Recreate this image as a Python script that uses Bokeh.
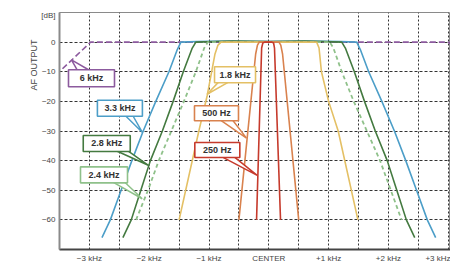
import math
from bokeh.plotting import figure
from bokeh.models import FixedTicker, Range1d, Title
from bokeh.core.properties import value
from bokeh.embed import file_html
from bokeh.resources import INLINE

# ---- axis ticks ----
x_ticks = [-3, -2, -1, 0, 1, 2, 3]
x_tick_labels = ["\u22123 kHz", "\u22122 kHz", "\u22121 kHz", "CENTER", "+1 kHz", "+2 kHz", "+3 kHz"]
x_grid = [-3.5, -3, -2.5, -2, -1.5, -1, -0.5, 0, 0.5, 1, 1.5, 2, 2.5, 3]
y_grid = [-60, -50, -40, -30, -20, -10, 0]
y_ticks = [-60, -50, -40, -30, -20, -10, 0, 9]
y_tick_labels = ["\u221260", "\u221250", "\u221240", "\u221230", "\u221220", "\u221210", "0", "[dB]"]

# ---- filter curves (offset kHz, dB) ----
f6k_x = [-3.45, -2.98, 3.0, 3.1]
f6k_y = [-9, 0, 0, -1.5]

f33_x = [-2.79, -2.65, -2.47, -2.29, -2.10, -1.89, -1.67, -1.53, -1.47, -1.2, -0.6, 0, 0.6, 1.2, 1.47, 1.53, 1.67, 1.89, 2.10, 2.29, 2.47, 2.65, 2.79]
f33_y = [-66, -60, -50, -40, -30, -20, -10, -2.5, 0, 0.2, 0.4, 0.2, 0.4, 0.2, 0, -2.5, -10, -20, -30, -40, -50, -60, -66]

f28_x = [-2.44, -2.30, -2.14, -1.98, -1.78, -1.60, -1.43, -1.28, -1.22, -0.6, 0, 0.6, 1.22, 1.28, 1.43, 1.60, 1.78, 1.98, 2.14, 2.30, 2.44]
f28_y = [-66, -60, -50, -40, -30, -20, -10, -2, 0, 0.4, 0.2, 0.4, 0, -2, -10, -20, -30, -40, -50, -60, -66]

f24_x = [-2.22, -2.02, -1.84, -1.63, -1.42, -1.22, -1.08, -1.02, 0, 1.02, 1.08, 1.22, 1.42, 1.64, 1.86, 2.04, 2.22]
f24_y = [-60, -50, -40, -30, -20, -10, -2, 0, 0, 0, -2, -10, -20, -30, -40, -50, -60]

f18_x = [-1.50, -1.17, -1.03, -0.90, -0.85, -0.80, 0, 0.80, 0.84, 0.88, 1.00, 1.16, 1.49]
f18_y = [-60, -30, -18, -4, -1, 0, 0, 0, -2, -10, -20, -30, -60]

f500_x = [-0.50, -0.22, -0.19, -0.16, 0.17, 0.20, 0.23, 0.50]
f500_y = [-60, -4, -1, 0, 0, -1, -4, -60]

f250_x = [-0.205, -0.12, -0.10, -0.07, 0.05, 0.08, 0.095, 0.196]
f250_y = [-60, -2, -0.3, 0, 0, -0.3, -2, -60]

# ---- callout labels ----
lab_text = ["6 kHz", "3.3 kHz", "2.8 kHz", "2.4 kHz", "1.8 kHz", "500 Hz", "250 Hz"]
lab_color = ["#8c5a9e", "#4c9ec8", "#447a40", "#8fc18a", "#e4c065", "#d9824e", "#c63a2c"]
lab_cx = [-2.965, -2.49, -2.71, -2.756, -0.565, -0.875, -0.861]
lab_cy = [-12.2, -22.3, -34.2, -44.8, -11.0, -24.0, -36.4]
lab_w = [46, 45, 47, 47, 41, 44, 45]
lab_h = [17, 16, 16, 16, 16, 15, 15]
tail_x0 = [-3.20, -2.41, -2.58, -2.614, -0.841, -0.808, -0.774]
tail_x1 = [-3.00, -2.28, -2.38, -2.413, -0.674, -0.607, -0.574]
tail_y = [-9.5, -24.6, -36.4, -47.2, -13.5, -26.3, -38.8]
tip_x = [-3.30, -2.117, -2.007, -2.117, -1.033, -0.373, -0.194]
tip_y = [-5.96, -30.4, -41.65, -52.86, -17.6, -32.4, -45.0]

FONT = "Liberation Sans"

p = figure(frame_width=391, frame_height=237,
           x_range=Range1d(-3.5, 3.038), y_range=Range1d(-70, 10),
           output_backend="svg", toolbar_location=None,
           min_border_left=59, min_border_right=0, min_border_top=12, min_border_bottom=15)
p.background_fill_color = "white"
p.border_fill_color = "white"
p.outline_line_color = "#8a8a8a"
p.outline_line_width = 1

# grids
p.xgrid.ticker = FixedTicker(ticks=x_grid)
p.xgrid.grid_line_color = "#333333"
p.xgrid.grid_line_dash = "2 2"
p.xgrid.grid_line_width = 1
p.ygrid.ticker = FixedTicker(ticks=y_grid)
p.ygrid.grid_line_color = "#333333"
p.ygrid.grid_line_dash = "3 2"
p.ygrid.grid_line_width = 1

# axes
p.xaxis.ticker = FixedTicker(ticks=x_ticks)
p.xaxis.major_label_overrides = dict(zip(x_ticks, x_tick_labels))
p.yaxis.ticker = FixedTicker(ticks=y_ticks)
p.yaxis.major_label_overrides = dict(zip(y_ticks, y_tick_labels))
for ax in (p.xaxis, p.yaxis):
    ax.major_tick_line_color = None
    ax.minor_tick_line_color = None
    ax.major_tick_out = 0
    ax.major_tick_in = 0
    ax.minor_tick_out = 0
    ax.minor_tick_in = 0
    ax.major_label_text_font = FONT
    ax.major_label_text_font_size = "8px"
    ax.major_label_text_color = "#444444"
    ax.major_label_standoff = 4
    ax.axis_line_width = 2
p.xaxis.axis_line_color = "#444444"
p.yaxis.axis_line_color = "#8a8a8a"

# y axis title, placed near the top of the side
p.add_layout(Title(text="AF OUTPUT", align="right", offset=27, text_font=FONT,
                   text_font_size="9px", text_font_style="normal", text_color="#444444",
                   standoff=0), "left")

# curves
p.line(f6k_x, f6k_y, line_color="#8c5a9e", line_width=1.6, line_dash="6 3")
p.line(f33_x, f33_y, line_color="#4c9ec8", line_width=1.6)
p.line(f28_x, f28_y, line_color="#447a40", line_width=1.6)
p.line(f24_x, f24_y, line_color="#8fc18a", line_width=1.8, line_dash="4 3")
p.line(f18_x, f18_y, line_color="#e4c065", line_width=1.6)
p.line(f500_x, f500_y, line_color="#d9824e", line_width=1.6)
p.line(f250_x, f250_y, line_color="#c63a2c", line_width=1.6)

# callouts
xs = [[a, tx, b] for a, tx, b in zip(tail_x0, tip_x, tail_x1)]
ys = [[ty, t, ty] for ty, t in zip(tail_y, tip_y)]
p.patches(xs, ys, fill_color="white", line_color=lab_color, line_width=1.5)
p.rect(lab_cx, lab_cy, width=lab_w, height=lab_h, width_units="screen", height_units="screen",
       fill_color="white", line_color=lab_color, line_width=1.6)
p.text(lab_cx, lab_cy, text=lab_text, text_align="center", text_baseline="middle",
       text_font=value(FONT), text_font_style="bold", text_font_size="9px", text_color="#333333")

open("out.html", "w").write(file_html(p, INLINE))
